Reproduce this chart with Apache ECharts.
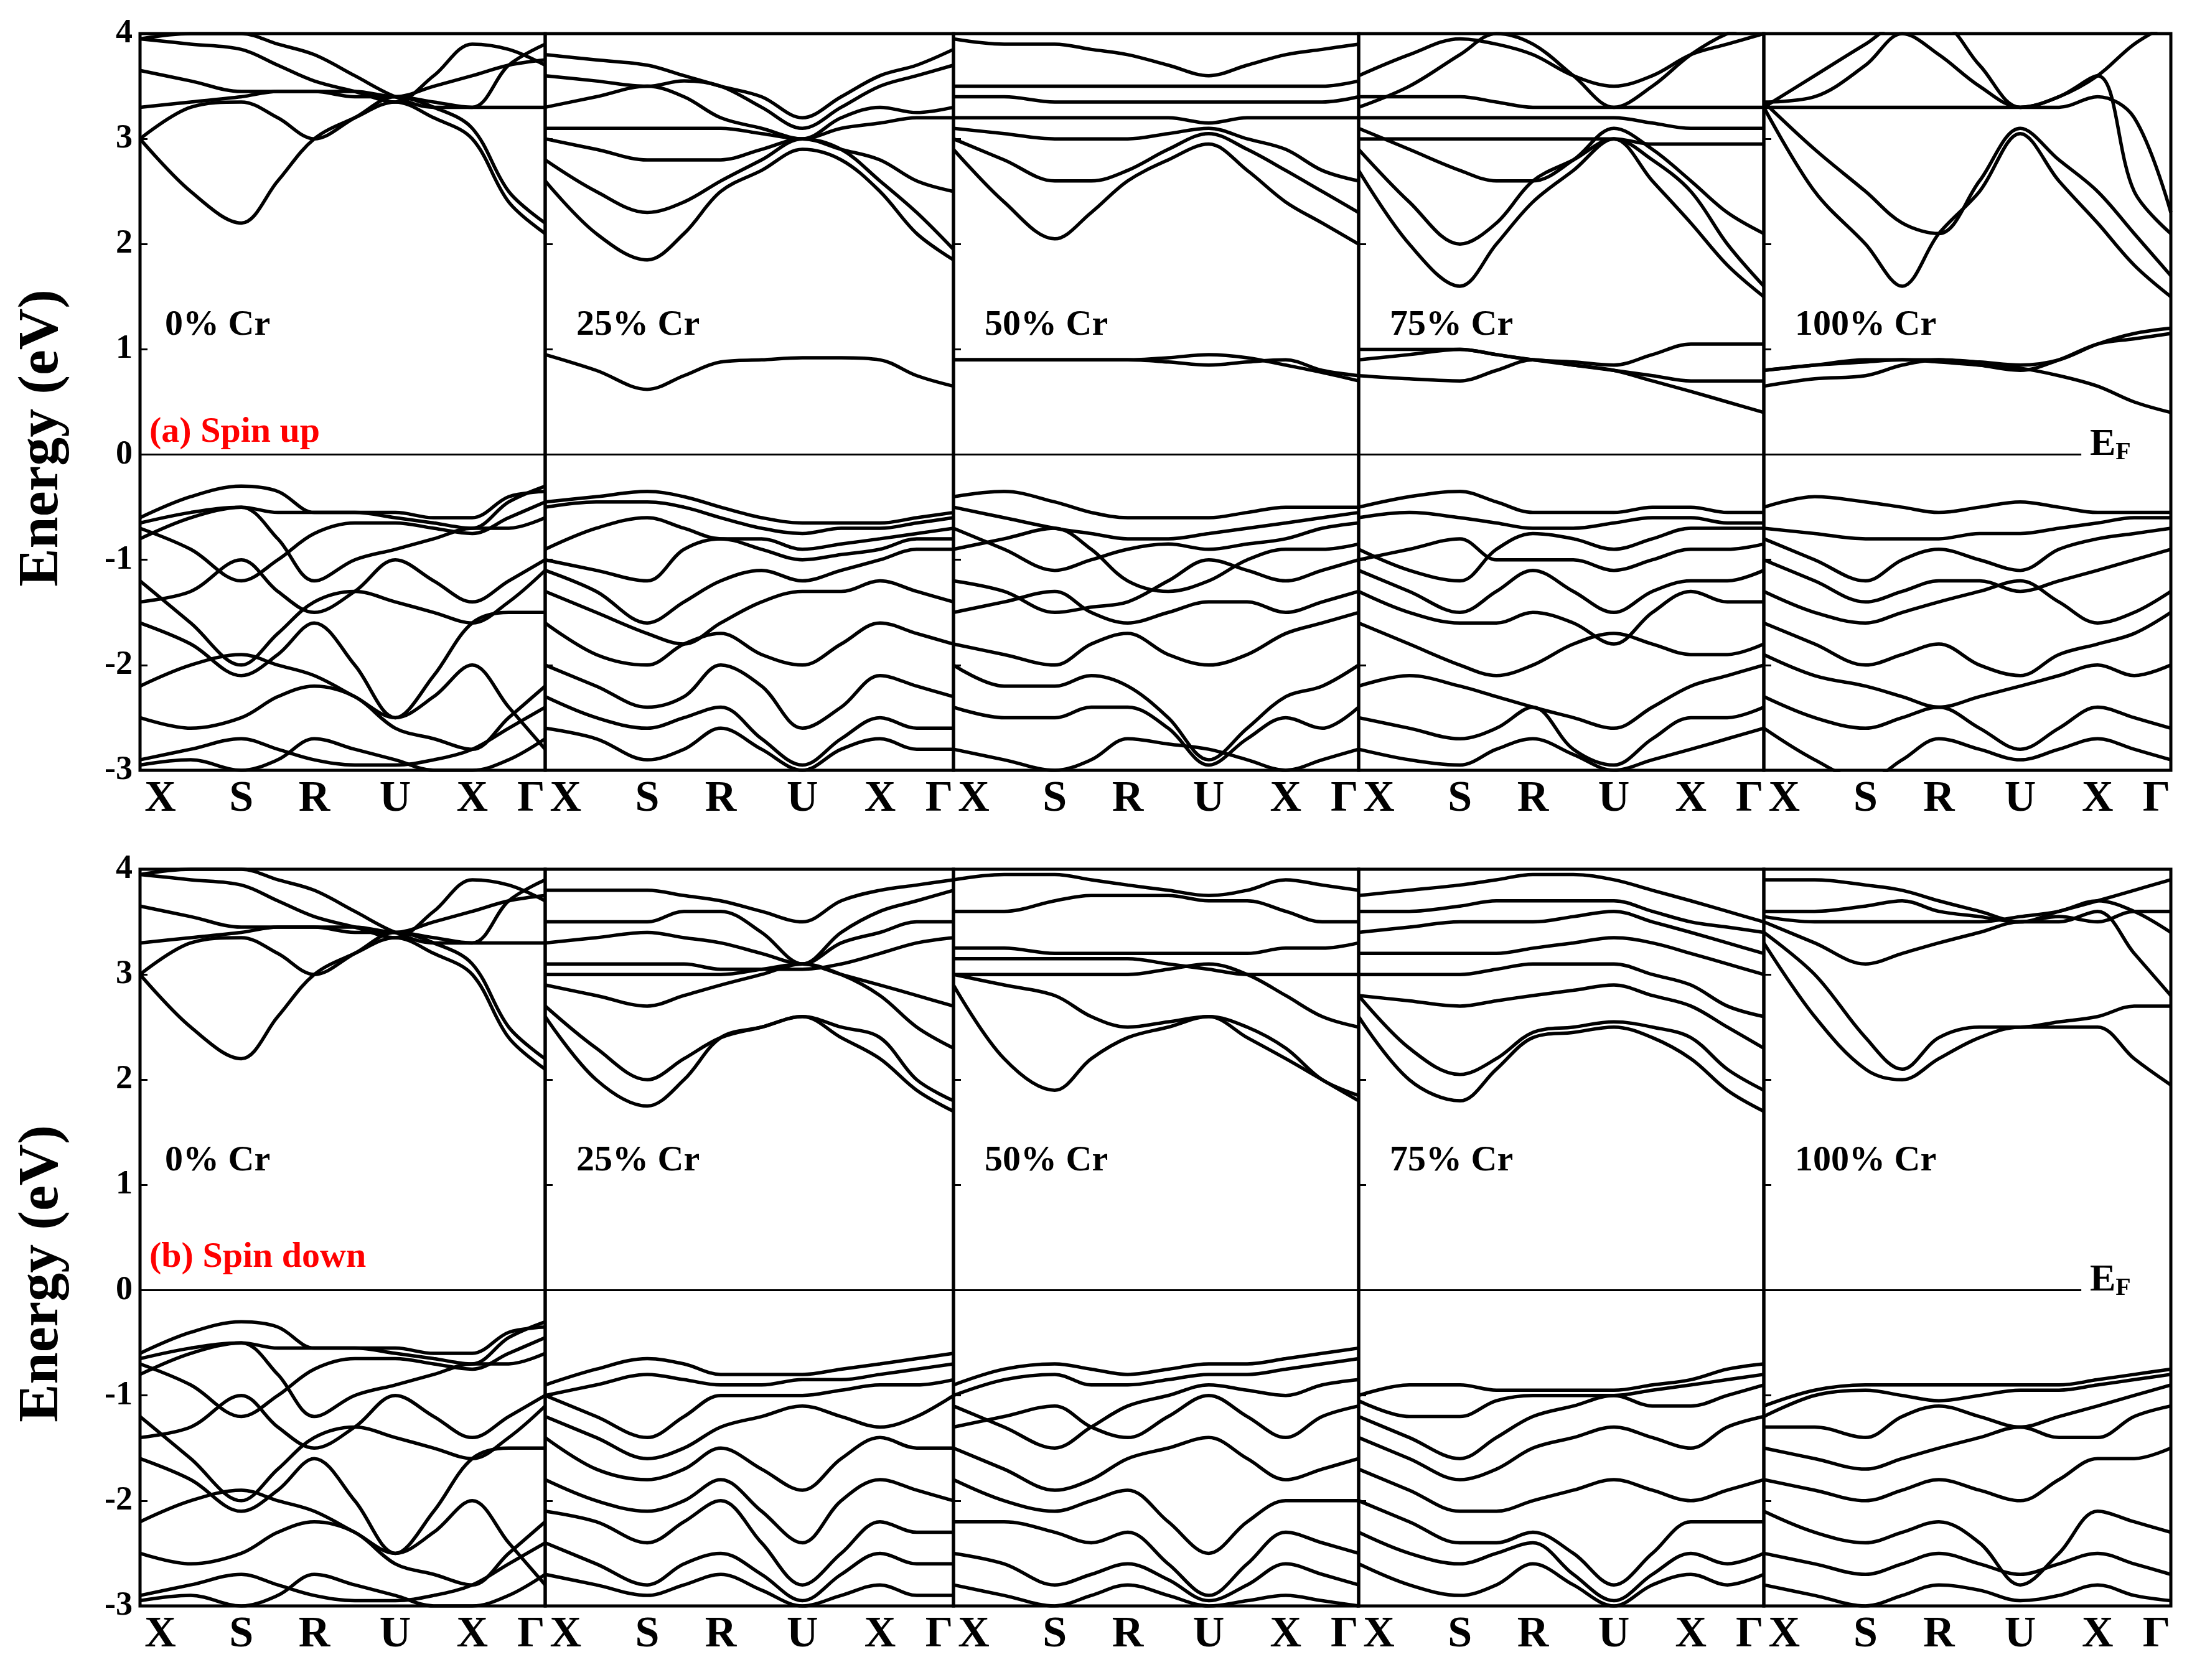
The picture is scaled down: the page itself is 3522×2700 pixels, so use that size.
<!DOCTYPE html>
<html>
<head>
<meta charset="utf-8">
<script src="https://cdn.jsdelivr.net/npm/echarts@6/dist/echarts.min.js"></script>
<style>html,body{margin:0;background:#fff}#app{width:3522px;height:2700px}</style>
</head>
<body>
<div id="app"></div>
<script>
// k-path sample positions (fraction of panel width) for every band array below
const kGrid = [0, 0.125, 0.25, 0.34, 0.43, 0.53, 0.63, 0.725, 0.82, 0.91, 1];
const kLabelPos = [0.05, 0.25, 0.43, 0.63, 0.82, 0.965];
const kLabels = ['X', 'S', 'R', 'U', 'X', 'Γ'];
const panelTitles = ['0% Cr', '25% Cr', '50% Cr', '75% Cr', '100% Cr'];

// 0% Cr (identical in both spin channels)
const cr0 = [
  [3.0,2.5,2.2,2.6,3.0,3.2,3.35,3.2,3.0,2.4,2.1],
  [3.0,3.3,3.35,3.2,3.0,3.2,3.4,3.3,3.1,2.5,2.2],
  [3.3,3.35,3.4,3.45,3.45,3.4,3.4,3.35,3.3,3.3,3.3],
  [3.65,3.55,3.45,3.45,3.45,3.45,3.4,3.5,3.6,3.7,3.75],
  [3.95,3.9,3.85,3.7,3.55,3.45,3.35,3.6,3.9,3.85,3.7],
  [3.95,4.0,4.0,3.9,3.8,3.6,3.4,3.3,3.3,3.7,3.9],
  [-0.6,-0.4,-0.3,-0.35,-0.55,-0.55,-0.6,-0.65,-0.7,-0.45,-0.3],
  [-0.65,-0.55,-0.5,-0.55,-0.55,-0.55,-0.55,-0.6,-0.6,-0.4,-0.35],
  [-0.7,-0.9,-1.2,-1.0,-0.75,-0.65,-0.65,-0.7,-0.75,-0.6,-0.45],
  [-0.8,-0.6,-0.5,-0.8,-1.2,-1.0,-0.9,-0.8,-0.7,-0.7,-0.6],
  [-1.4,-1.3,-1.0,-1.3,-1.5,-1.3,-1.0,-1.2,-1.4,-1.2,-1.0],
  [-1.2,-1.6,-2.0,-1.7,-1.4,-1.3,-1.4,-1.5,-1.6,-1.4,-1.1],
  [-1.6,-1.8,-2.1,-1.9,-1.6,-2.0,-2.5,-2.1,-1.6,-1.5,-1.5],
  [-2.2,-2.0,-1.9,-2.0,-2.1,-2.3,-2.5,-2.3,-2.0,-2.4,-2.8],
  [-2.5,-2.6,-2.5,-2.3,-2.2,-2.3,-2.6,-2.7,-2.8,-2.5,-2.2],
  [-2.9,-2.8,-2.7,-2.8,-2.9,-2.95,-2.95,-2.9,-2.8,-2.6,-2.4],
  [-2.95,-2.9,-3.0,-2.9,-2.7,-2.8,-2.9,-3.0,-3.0,-2.9,-2.7]
];

const up25 = [
  [0.95,0.8,0.62,0.75,0.88,0.9,0.92,0.92,0.9,0.75,0.65],
  [2.6,2.1,1.85,2.1,2.5,2.7,2.9,2.8,2.5,2.1,1.85],
  [2.8,2.5,2.3,2.4,2.6,2.8,3.0,2.9,2.6,2.3,1.95],
  [3.0,2.9,2.8,2.8,2.8,2.9,3.0,2.9,2.8,2.6,2.5],
  [3.1,3.1,3.1,3.1,3.1,3.05,3.0,3.1,3.15,3.2,3.2],
  [3.3,3.4,3.5,3.4,3.2,3.1,3.0,3.2,3.3,3.25,3.3],
  [3.6,3.55,3.5,3.55,3.5,3.3,3.1,3.3,3.5,3.6,3.7],
  [3.8,3.75,3.7,3.6,3.5,3.4,3.2,3.4,3.6,3.7,3.85],
  [-0.45,-0.4,-0.35,-0.4,-0.5,-0.6,-0.65,-0.65,-0.65,-0.6,-0.55],
  [-0.5,-0.45,-0.45,-0.5,-0.6,-0.7,-0.75,-0.7,-0.7,-0.65,-0.6],
  [-0.9,-0.7,-0.6,-0.7,-0.8,-0.8,-0.9,-0.85,-0.8,-0.75,-0.7],
  [-1.0,-1.1,-1.2,-0.9,-0.8,-0.9,-1.0,-0.95,-0.9,-0.8,-0.8],
  [-1.1,-1.3,-1.6,-1.4,-1.2,-1.1,-1.2,-1.1,-1.0,-0.9,-0.9],
  [-1.3,-1.5,-1.7,-1.8,-1.6,-1.4,-1.3,-1.3,-1.2,-1.3,-1.4],
  [-1.6,-1.9,-2.0,-1.8,-1.7,-1.9,-2.0,-1.8,-1.6,-1.7,-1.8],
  [-2.0,-2.2,-2.4,-2.3,-2.0,-2.2,-2.6,-2.4,-2.1,-2.2,-2.3],
  [-2.3,-2.5,-2.6,-2.5,-2.4,-2.7,-2.95,-2.7,-2.5,-2.6,-2.6],
  [-2.6,-2.7,-2.9,-2.8,-2.6,-2.8,-3.0,-2.8,-2.7,-2.8,-2.8]
];

const up50 = [
  [0.9,0.9,0.9,0.9,0.9,0.88,0.85,0.88,0.9,0.8,0.75],
  [0.9,0.9,0.9,0.9,0.9,0.92,0.95,0.92,0.85,0.78,0.7],
  [2.9,2.4,2.05,2.3,2.6,2.8,2.95,2.7,2.4,2.2,2.0],
  [3.0,2.8,2.6,2.6,2.7,2.9,3.05,2.9,2.7,2.5,2.3],
  [3.1,3.05,3.0,3.0,3.0,3.05,3.1,3.0,2.9,2.7,2.6],
  [3.2,3.2,3.2,3.2,3.2,3.2,3.15,3.2,3.2,3.2,3.2],
  [3.4,3.4,3.35,3.35,3.35,3.35,3.35,3.35,3.35,3.35,3.4],
  [3.5,3.5,3.5,3.5,3.5,3.5,3.5,3.5,3.5,3.5,3.55],
  [3.95,3.9,3.9,3.85,3.8,3.7,3.6,3.7,3.8,3.85,3.9],
  [-0.4,-0.35,-0.45,-0.55,-0.6,-0.6,-0.6,-0.55,-0.5,-0.5,-0.5],
  [-0.5,-0.6,-0.7,-0.75,-0.8,-0.8,-0.75,-0.7,-0.65,-0.6,-0.55],
  [-0.7,-0.9,-1.1,-1.0,-0.9,-0.85,-0.9,-0.85,-0.8,-0.7,-0.65],
  [-0.9,-0.8,-0.7,-0.9,-1.2,-1.3,-1.2,-1.0,-0.9,-0.9,-0.85],
  [-1.2,-1.3,-1.5,-1.45,-1.4,-1.2,-1.0,-1.1,-1.2,-1.1,-1.0],
  [-1.5,-1.4,-1.3,-1.5,-1.6,-1.5,-1.4,-1.4,-1.5,-1.4,-1.3],
  [-1.8,-1.9,-2.0,-1.8,-1.7,-1.9,-2.0,-1.9,-1.7,-1.6,-1.5],
  [-2.0,-2.2,-2.2,-2.1,-2.2,-2.5,-2.9,-2.6,-2.3,-2.2,-2.0],
  [-2.4,-2.5,-2.5,-2.4,-2.4,-2.6,-2.95,-2.7,-2.5,-2.6,-2.4],
  [-2.8,-2.9,-3.0,-2.9,-2.7,-2.75,-2.8,-2.9,-3.0,-2.9,-2.8]
];

const up75 = [
  [0.75,0.72,0.7,0.8,0.9,0.85,0.8,0.75,0.7,0.7,0.7],
  [0.9,0.95,1.0,0.95,0.9,0.88,0.85,0.95,1.05,1.05,1.05],
  [1.0,1.0,1.0,0.95,0.9,0.85,0.8,0.7,0.6,0.5,0.4],
  [2.7,2.0,1.6,2.0,2.4,2.7,3.0,2.6,2.2,1.8,1.5],
  [2.9,2.4,2.0,2.2,2.6,2.8,3.0,2.8,2.5,2.0,1.6],
  [3.1,2.9,2.7,2.6,2.6,2.8,3.1,2.9,2.6,2.3,2.1],
  [3.0,3.0,3.0,3.0,3.0,3.0,3.0,2.95,2.95,2.95,2.95],
  [3.2,3.2,3.2,3.2,3.2,3.2,3.2,3.15,3.1,3.1,3.1],
  [3.4,3.4,3.4,3.35,3.3,3.3,3.3,3.3,3.3,3.3,3.3],
  [3.3,3.5,3.8,4.0,3.9,3.6,3.3,3.5,3.8,4.0,4.1],
  [3.6,3.8,3.95,3.9,3.8,3.6,3.5,3.6,3.8,3.9,4.0],
  [-0.5,-0.4,-0.35,-0.45,-0.55,-0.55,-0.55,-0.5,-0.5,-0.55,-0.55],
  [-0.6,-0.55,-0.6,-0.65,-0.7,-0.7,-0.65,-0.6,-0.6,-0.65,-0.65],
  [-0.9,-1.1,-1.2,-0.9,-0.75,-0.8,-0.9,-0.8,-0.7,-0.7,-0.7],
  [-1.0,-0.9,-0.8,-1.0,-1.0,-1.0,-1.1,-1.0,-0.9,-0.9,-0.85],
  [-1.1,-1.3,-1.5,-1.3,-1.1,-1.3,-1.5,-1.3,-1.2,-1.2,-1.1],
  [-1.3,-1.5,-1.6,-1.6,-1.5,-1.6,-1.8,-1.5,-1.3,-1.4,-1.4],
  [-1.6,-1.8,-2.0,-2.1,-2.0,-1.8,-1.7,-1.8,-1.9,-1.9,-1.8],
  [-2.2,-2.1,-2.2,-2.3,-2.4,-2.5,-2.6,-2.4,-2.2,-2.1,-2.0],
  [-2.5,-2.6,-2.7,-2.6,-2.4,-2.8,-2.95,-2.7,-2.5,-2.5,-2.4],
  [-2.8,-2.9,-2.95,-2.8,-2.7,-2.85,-3.0,-2.9,-2.8,-2.7,-2.6]
];

const up100 = [
  [0.65,0.72,0.75,0.85,0.9,0.85,0.8,0.9,1.05,1.1,1.15],
  [0.8,0.85,0.9,0.9,0.88,0.85,0.82,0.75,0.65,0.5,0.4],
  [0.8,0.85,0.88,0.9,0.9,0.88,0.85,0.9,1.05,1.15,1.2],
  [3.3,2.5,2.0,1.6,2.1,2.5,3.05,2.6,2.2,1.8,1.5],
  [3.35,2.9,2.5,2.2,2.1,2.6,3.1,2.8,2.5,2.1,1.7],
  [3.35,3.4,3.7,4.0,3.8,3.5,3.3,3.4,3.6,2.5,2.1],
  [3.3,3.6,3.9,4.1,4.1,3.7,3.3,3.3,3.4,3.2,2.3],
  [3.3,3.3,3.3,3.3,3.3,3.3,3.3,3.4,3.6,3.9,4.1],
  [-0.5,-0.4,-0.45,-0.5,-0.55,-0.5,-0.45,-0.5,-0.55,-0.55,-0.55],
  [-0.7,-0.75,-0.8,-0.8,-0.8,-0.75,-0.75,-0.7,-0.65,-0.6,-0.6],
  [-0.8,-1.0,-1.2,-1.0,-0.9,-1.0,-1.1,-0.9,-0.8,-0.75,-0.7],
  [-1.0,-1.2,-1.4,-1.3,-1.2,-1.2,-1.3,-1.2,-1.1,-1.0,-0.9],
  [-1.3,-1.5,-1.6,-1.5,-1.4,-1.3,-1.2,-1.4,-1.6,-1.5,-1.3],
  [-1.6,-1.8,-2.0,-1.9,-1.8,-2.0,-2.1,-1.9,-1.8,-1.7,-1.5],
  [-1.9,-2.1,-2.2,-2.3,-2.4,-2.3,-2.2,-2.1,-2.0,-2.1,-2.0],
  [-2.3,-2.5,-2.6,-2.5,-2.4,-2.6,-2.8,-2.6,-2.4,-2.5,-2.6],
  [-2.6,-2.9,-3.1,-2.9,-2.7,-2.8,-2.9,-2.8,-2.7,-2.8,-2.9]
];

const down25 = [
  [2.6,2.0,1.75,2.0,2.4,2.5,2.6,2.4,2.2,1.9,1.7],
  [2.7,2.3,2.0,2.2,2.4,2.5,2.6,2.5,2.4,2.0,1.8],
  [2.9,2.8,2.7,2.8,2.9,3.0,3.1,3.0,2.8,2.5,2.3],
  [3.0,3.0,3.0,3.0,3.0,3.05,3.1,3.0,2.9,2.8,2.7],
  [3.1,3.1,3.1,3.1,3.05,3.05,3.05,3.1,3.2,3.3,3.35],
  [3.3,3.35,3.4,3.35,3.3,3.2,3.1,3.3,3.4,3.5,3.5],
  [3.5,3.5,3.5,3.6,3.6,3.4,3.1,3.4,3.6,3.7,3.8],
  [3.8,3.8,3.8,3.75,3.7,3.6,3.5,3.7,3.8,3.85,3.9],
  [-0.9,-0.75,-0.65,-0.7,-0.8,-0.8,-0.8,-0.75,-0.7,-0.65,-0.6],
  [-1.0,-0.9,-0.8,-0.85,-0.9,-0.9,-0.85,-0.85,-0.8,-0.75,-0.7],
  [-1.0,-1.2,-1.4,-1.2,-1.0,-1.0,-1.0,-0.95,-0.9,-0.9,-0.85],
  [-1.2,-1.4,-1.6,-1.5,-1.3,-1.2,-1.1,-1.2,-1.3,-1.2,-1.0],
  [-1.4,-1.7,-1.8,-1.7,-1.5,-1.7,-1.9,-1.6,-1.4,-1.5,-1.5],
  [-1.8,-2.0,-2.1,-2.0,-1.8,-2.1,-2.4,-2.0,-1.8,-1.9,-2.0],
  [-2.1,-2.2,-2.4,-2.2,-2.0,-2.4,-2.8,-2.5,-2.2,-2.3,-2.3],
  [-2.4,-2.6,-2.8,-2.6,-2.5,-2.7,-2.95,-2.7,-2.5,-2.6,-2.6],
  [-2.7,-2.8,-2.9,-2.8,-2.7,-2.85,-3.0,-2.9,-2.8,-2.9,-2.9]
];

const down50 = [
  [2.9,2.2,1.9,2.2,2.4,2.5,2.6,2.4,2.2,2.0,1.8],
  [3.0,2.9,2.8,2.6,2.5,2.55,2.6,2.5,2.3,2.0,1.85],
  [3.0,3.0,3.0,3.0,3.0,3.05,3.1,3.0,2.8,2.6,2.5],
  [3.15,3.15,3.15,3.15,3.15,3.1,3.05,3.0,3.0,3.0,3.0],
  [3.25,3.25,3.2,3.2,3.2,3.2,3.2,3.2,3.25,3.25,3.3],
  [3.6,3.6,3.7,3.75,3.75,3.75,3.7,3.7,3.6,3.5,3.5],
  [3.9,3.95,3.95,3.9,3.85,3.8,3.75,3.8,3.9,3.85,3.8],
  [-0.9,-0.75,-0.7,-0.75,-0.8,-0.75,-0.7,-0.7,-0.65,-0.6,-0.55],
  [-1.0,-0.85,-0.8,-0.9,-0.9,-0.85,-0.8,-0.8,-0.75,-0.7,-0.65],
  [-1.1,-1.3,-1.5,-1.3,-1.1,-1.0,-0.9,-0.95,-1.0,-0.9,-0.85],
  [-1.3,-1.2,-1.1,-1.3,-1.4,-1.2,-1.0,-1.2,-1.4,-1.2,-1.1],
  [-1.5,-1.7,-1.9,-1.8,-1.6,-1.5,-1.4,-1.6,-1.8,-1.7,-1.6],
  [-1.8,-2.0,-2.1,-2.0,-1.9,-2.2,-2.5,-2.2,-2.0,-2.0,-2.0],
  [-2.2,-2.2,-2.3,-2.4,-2.3,-2.6,-2.9,-2.6,-2.3,-2.4,-2.5],
  [-2.5,-2.6,-2.8,-2.7,-2.6,-2.75,-2.95,-2.8,-2.6,-2.7,-2.8],
  [-2.8,-2.9,-3.0,-2.9,-2.8,-2.9,-3.0,-2.95,-2.9,-2.95,-3.0]
];

const down75 = [
  [2.6,2.0,1.8,2.1,2.4,2.45,2.5,2.4,2.2,1.9,1.7],
  [2.8,2.3,2.05,2.2,2.45,2.5,2.55,2.5,2.4,2.1,1.9],
  [2.8,2.75,2.7,2.75,2.8,2.85,2.9,2.8,2.7,2.5,2.3],
  [3.0,3.0,3.0,3.05,3.1,3.1,3.1,3.0,2.9,2.7,2.6],
  [3.2,3.2,3.2,3.2,3.25,3.3,3.35,3.3,3.2,3.1,3.0],
  [3.4,3.45,3.5,3.5,3.5,3.55,3.6,3.5,3.4,3.3,3.2],
  [3.6,3.6,3.65,3.7,3.7,3.7,3.7,3.6,3.5,3.45,3.4],
  [3.75,3.8,3.85,3.9,3.95,3.95,3.9,3.8,3.7,3.6,3.5],
  [-1.0,-0.9,-0.9,-0.95,-0.95,-0.95,-0.95,-0.9,-0.85,-0.75,-0.7],
  [-1.05,-1.2,-1.2,-1.05,-1.0,-1.0,-1.0,-0.95,-0.9,-0.85,-0.8],
  [-1.2,-1.4,-1.6,-1.4,-1.2,-1.1,-1.0,-1.1,-1.1,-1.0,-0.9],
  [-1.4,-1.6,-1.8,-1.7,-1.5,-1.4,-1.3,-1.4,-1.5,-1.3,-1.2],
  [-1.7,-1.9,-2.1,-2.1,-2.0,-1.9,-1.8,-1.9,-2.0,-1.9,-1.8],
  [-2.0,-2.2,-2.4,-2.4,-2.3,-2.5,-2.8,-2.5,-2.2,-2.2,-2.2],
  [-2.3,-2.5,-2.6,-2.5,-2.4,-2.7,-2.95,-2.7,-2.5,-2.6,-2.5],
  [-2.6,-2.8,-2.9,-2.8,-2.6,-2.8,-3.0,-2.8,-2.7,-2.8,-2.7]
];

const down100 = [
  [3.3,2.6,2.1,2.0,2.2,2.4,2.5,2.5,2.5,2.2,1.95],
  [3.4,3.0,2.4,2.1,2.4,2.5,2.5,2.55,2.6,2.7,2.7],
  [3.5,3.3,3.1,3.2,3.3,3.4,3.5,3.5,3.6,3.2,2.8],
  [3.55,3.5,3.5,3.5,3.5,3.5,3.55,3.6,3.7,3.6,3.4],
  [3.6,3.6,3.65,3.7,3.6,3.55,3.5,3.55,3.5,3.6,3.6],
  [3.9,3.9,3.85,3.8,3.7,3.6,3.5,3.6,3.7,3.8,3.9],
  [-1.1,-0.95,-0.9,-0.9,-0.9,-0.9,-0.9,-0.9,-0.85,-0.8,-0.75],
  [-1.2,-1.0,-0.95,-1.0,-1.05,-1.0,-0.95,-0.95,-0.9,-0.85,-0.8],
  [-1.3,-1.3,-1.4,-1.2,-1.1,-1.2,-1.3,-1.2,-1.1,-1.0,-0.9],
  [-1.5,-1.6,-1.7,-1.6,-1.5,-1.4,-1.3,-1.4,-1.4,-1.2,-1.1],
  [-1.8,-1.9,-2.0,-1.9,-1.8,-1.9,-2.0,-1.8,-1.6,-1.6,-1.5],
  [-2.1,-2.3,-2.4,-2.3,-2.2,-2.4,-2.8,-2.5,-2.1,-2.2,-2.3],
  [-2.5,-2.6,-2.7,-2.6,-2.5,-2.6,-2.7,-2.6,-2.5,-2.6,-2.7],
  [-2.8,-2.9,-3.0,-2.9,-2.8,-2.85,-2.95,-2.9,-2.8,-2.9,-2.95]
];

const upPanels = [cr0, up25, up50, up75, up100];
const downPanels = [cr0, down25, down50, down75, down100];

const colLeft = [225, 876, 1532, 2183, 2834];
const colWidth = [651, 656, 651, 651, 654];
const rowTop = [54, 1397];
const rowHeight = 1184;
const serif = 'Liberation Serif';

const grids = [], xAxes = [], yAxes = [], series = [], graphics = [];
[upPanels, downPanels].forEach((panels, r) => {
  panels.forEach((bands, c) => {
    const i = grids.length;
    grids.push({
      left: colLeft[c], top: rowTop[r], width: colWidth[c], height: rowHeight,
      show: true, borderColor: '#000', borderWidth: 5, backgroundColor: 'transparent'
    });
    xAxes.push({
      gridIndex: i, type: 'value', min: 0, max: 1,
      axisLine: { show: false }, splitLine: { show: false },
      axisTick: { show: false },
      axisLabel: {
        customValues: kLabelPos, showMinLabel: true, showMaxLabel: true,
        formatter: v => kLabels[kLabelPos.indexOf(v)] || '',
        fontFamily: serif, fontWeight: 'bold', fontSize: 70, color: '#000', margin: 12
      }
    });
    yAxes.push({
      gridIndex: i, type: 'value', min: -3, max: 4, interval: 1,
      axisLine: { show: false }, splitLine: { show: false },
      axisTick: { show: true, inside: true, length: 12, lineStyle: { color: '#000', width: 3 } },
      axisLabel: {
        show: c === 0, fontFamily: serif, fontWeight: 'bold', fontSize: 54, color: '#000', margin: 12
      }
    });
    bands.forEach(b => {
      series.push({
        type: 'line', xAxisIndex: i, yAxisIndex: i, smooth: 0.35, symbol: 'none',
        lineStyle: { color: '#000', width: 5.5 }, silent: true,
        data: b.map((e, j) => [kGrid[j], e])
      });
    });
    // Fermi level
    series.push({
      type: 'line', xAxisIndex: i, yAxisIndex: i, symbol: 'none', silent: true,
      lineStyle: { color: '#000', width: 3 },
      data: [[0, 0], [c === 4 ? 0.78 : 1, 0]]
    });
    graphics.push({
      type: 'text', left: colLeft[c] + (c === 0 ? 40 : 50), top: rowTop[r] + 440,
      style: { text: panelTitles[c], fontFamily: serif, fontWeight: 'bold', fontSize: 58, fill: '#000' }
    });
  });
  graphics.push({
    type: 'text', left: 3358, top: rowTop[r] + 630,
    style: {
      text: '{e|E}{f|F}', fill: '#000',
      rich: {
        e: { fontFamily: serif, fontWeight: 'bold', fontSize: 62 },
        f: { fontFamily: serif, fontWeight: 'bold', fontSize: 40, padding: [26, 0, 0, 0] }
      }
    }
  });
  graphics.push({
    type: 'text', left: 240, top: rowTop[r] + (r === 0 ? 612 : 595),
    style: { text: r === 0 ? '(a) Spin up' : '(b) Spin down', fontFamily: serif, fontWeight: 'bold', fontSize: 58, fill: '#ff0000' }
  });
  graphics.push({
    type: 'text', x: 68, y: rowTop[r] + 650, rotation: Math.PI / 2,
    style: { text: 'Energy (eV)', fontFamily: serif, fontWeight: 'bold', fontSize: 92, fill: '#000', align: 'center', verticalAlign: 'middle' }
  });
});

const chart = echarts.init(document.getElementById('app'));
chart.setOption({
  animation: false,
  backgroundColor: '#fff',
  grid: grids, xAxis: xAxes, yAxis: yAxes, series: series, graphic: graphics
});
</script>
</body>
</html>
